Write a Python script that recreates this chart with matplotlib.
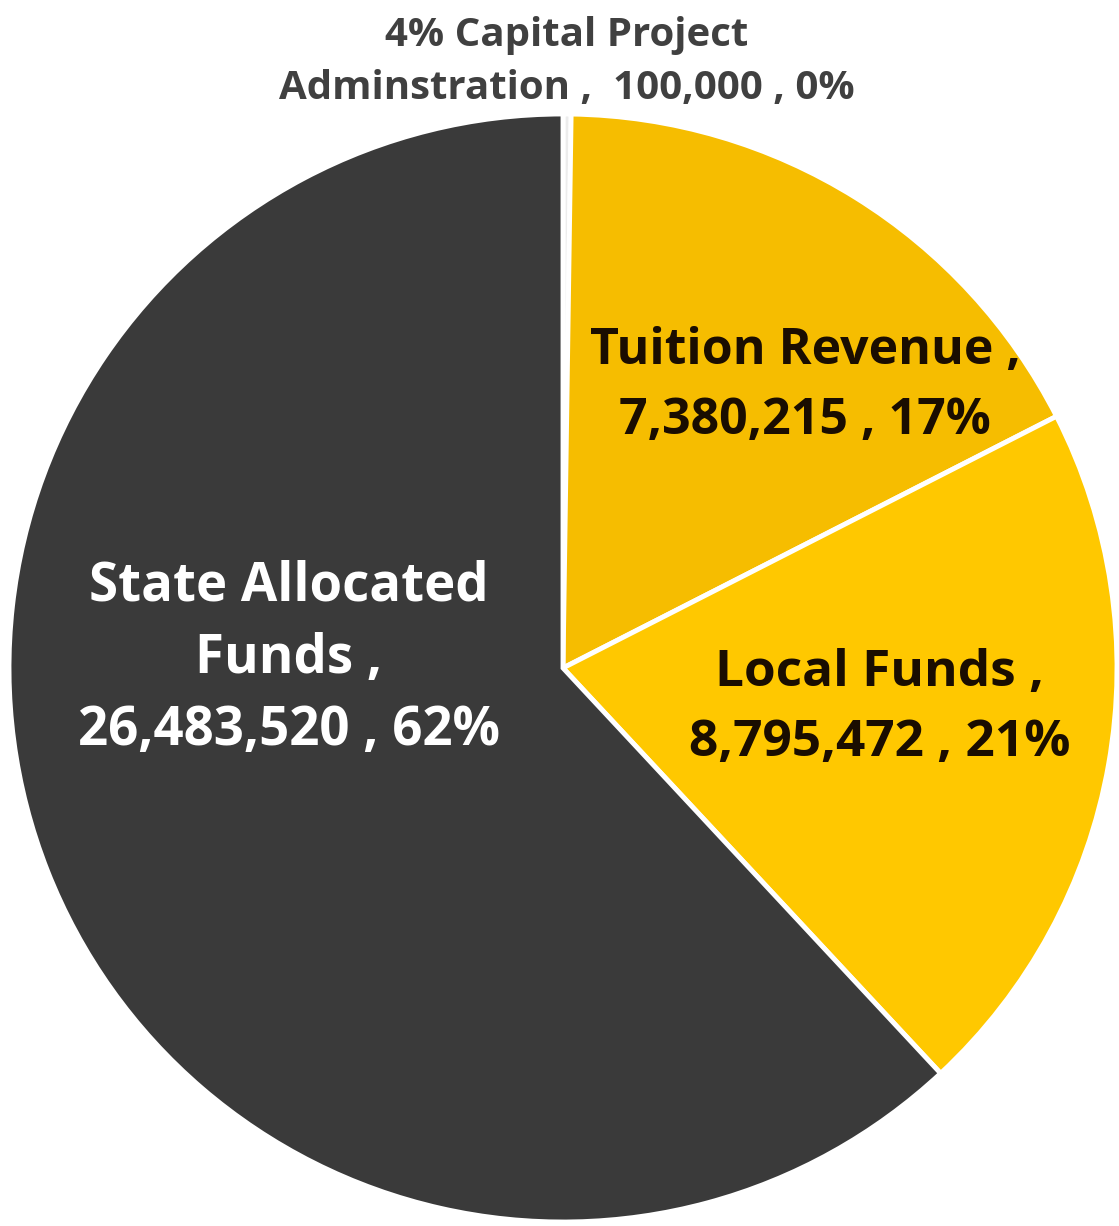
import matplotlib
matplotlib.use("Agg")
import matplotlib.pyplot as plt
import numpy as np

plt.rcParams['font.family'] = ['Open Sans', 'DejaVu Sans']

# Funding sources
categories = ["4% Capital Project\nAdminstration", "Tuition Revenue", "Local Funds", "State Allocated\nFunds"]
amounts = [100000, 7380215, 8795472, 26483520]
percent_labels = ["0%", "17%", "21%", "62%"]
colors = ["#ececec", "#f6bd00", "#ffc800", "#3a3a3a"]
text_colors = ["#404040", "#1a0d00", "#1a0d00", "#ffffff"]

W, H = 1119, 1226
cx, cy, R = 563, 668, 554  # pie centre and radius in pixels

fig = plt.figure(figsize=(W / 100, H / 100), dpi=100)
ax = fig.add_axes([0, 0, 1, 1])

wedges, _ = ax.pie(amounts, colors=colors, startangle=90, counterclock=False,
                   radius=1, center=(0, 0),
                   wedgeprops=dict(edgecolor='white', linewidth=3.5))

ax.set_aspect('auto')
ax.set_xlim(-cx / R, (W - cx) / R)
ax.set_ylim(-(H - cy) / R, cy / R)
ax.axis('off')

def fmt(n):
    return f"{n:,}"

# label anchor points in pixels
label_px = [(567, 62), (805, 386), (880, 708), (289, 659)]
sizes = [29, 36, 37, 38]
spacing = [1.48, 1.53, 1.5, 1.45]
first, second = categories[0].splitlines()
texts = [
    f"{first}\n{second} ,  {fmt(amounts[0])} , {percent_labels[0]}",
    f"{categories[1]} ,\n{fmt(amounts[1])} , {percent_labels[1]}",
    f"{categories[2]} ,\n{fmt(amounts[2])} , {percent_labels[2]}",
    f"{categories[3]} ,\n{fmt(amounts[3])} , {percent_labels[3]}",
]
for (px, py), t, s, c, ls in zip(label_px, texts, sizes, text_colors, spacing):
    ax.text((px - cx) / R, (cy - py) / R, t, ha='center', va='center',
            fontsize=s, fontweight='bold', color=c, linespacing=ls)

fig.savefig("out.png", dpi=100)
